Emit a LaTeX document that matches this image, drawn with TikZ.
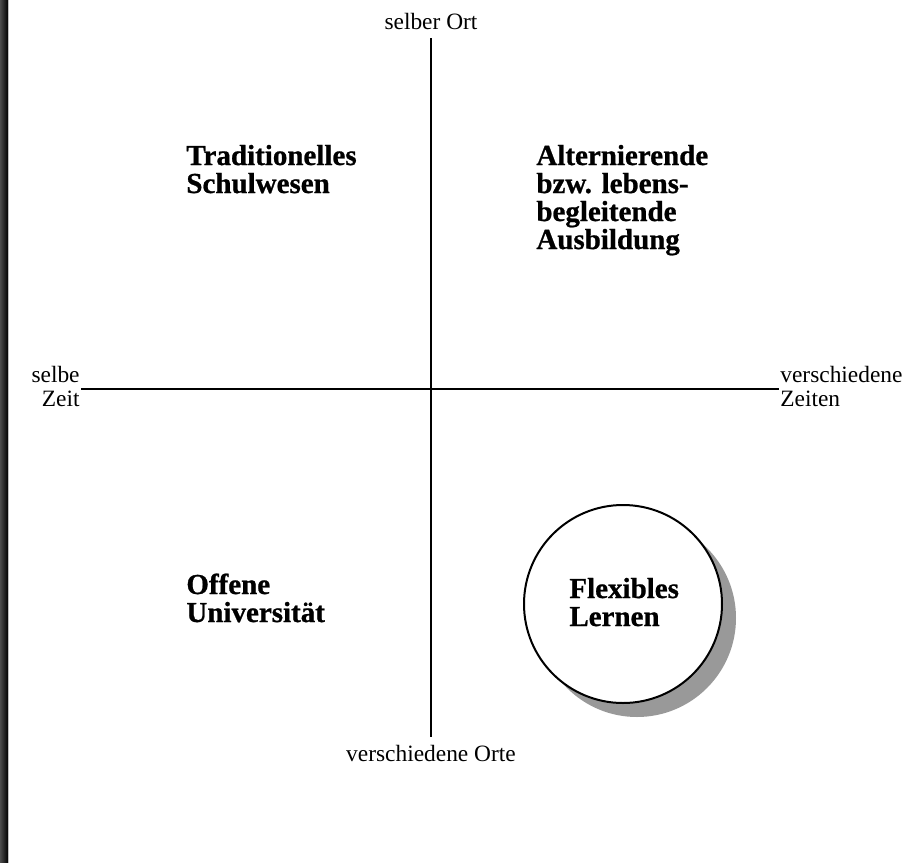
\documentclass[tikz,border=0pt]{standalone}
\usepackage{fontspec}
\setmainfont{Liberation Serif}
\newfontfamily\heavyfont[BoldFeatures={FakeBold=0.8}]{Liberation Serif}
\usetikzlibrary{calc}

\begin{document}
\begin{tikzpicture}[x=0.5pt,y=-0.5pt,
  axis/.style={line width=1pt},
  pole/.style={inner sep=0pt, font=\fontsize{11.7}{12}\selectfont},
  field/.style={inner sep=0pt, align=left, font=\heavyfont\bfseries\fontsize{14.5}{14}\selectfont}]
\useasboundingbox (0,0) rectangle (922,863);
% dark strip on the left
\shade[left color=black!70, right color=black] (0,0) rectangle (8,863);
\draw[black!25, line width=0.5pt] (8.5,0) -- (8.5,863);
\coordinate (N) at (431,38);
\coordinate (S) at (431,737);
\coordinate (W) at (81,389);
\coordinate (E) at (779,389);
\coordinate (C) at (623,604);
% axes
\draw[axis] (N) -- (S);
\draw[axis] (W) -- (E);
% labels of the axes (base = last line)
\node[pole, anchor=base] (ort1) at (431,29) {selber Ort};
\node[pole, anchor=base] (ort2) at (431,761) {verschiedene Orte};
\node[pole, anchor=base east, align=right] (zeit1) at (80,406) {selbe\\Zeit};
\node[pole, anchor=base west, align=left] (zeit2) at (780,406) {verschiedene\\Zeiten};
% circle with shadow
\fill[black!40] ($(C)+(14,14)$) circle (99);
\draw[line width=1pt, fill=white] (C) circle (99);
% the four fields
\node[field, anchor=base west] (trad) at (186,193) {Traditionelles\\Schulwesen};
\node[field, anchor=base west] (alt) at (536,249) {Alternierende\\bzw. lebens-\\begleitende\\Ausbildung};
\node[field, anchor=base west] (off) at (186,622) {Offene\\Universität};
\node[field, anchor=base west] (flex) at (569,626) {Flexibles\\Lernen};
\end{tikzpicture}
\end{document}
